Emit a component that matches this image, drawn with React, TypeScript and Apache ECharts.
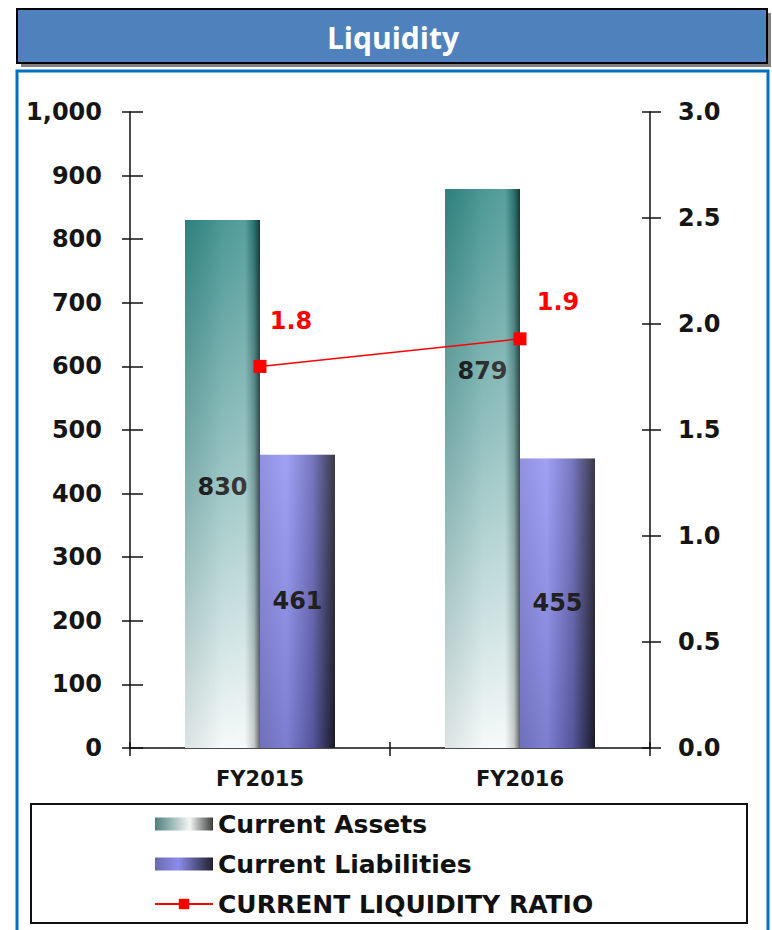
import { useEffect, useRef } from 'react';
import * as echarts from 'echarts';

const TITLE = 'Liquidity';
const CATEGORIES = ['FY2015', 'FY2016'];
const CURRENT_ASSETS = [830, 879];
const CURRENT_LIABILITIES = [461, 455];
const CURRENT_LIQUIDITY_RATIO = [1.8, 1.93];
const SERIES_NAMES = ['Current Assets', 'Current Liabilities', 'CURRENT LIQUIDITY RATIO'];
const LEFT_TICK_LABELS = ['0', '100', '200', '300', '400', '500', '600', '700', '800', '900', '1,000'];
const RIGHT_TICK_LABELS = ['0.0', '0.5', '1.0', '1.5', '2.0', '2.5', '3.0'];

// label nudges (style only)
const ASSET_LABEL_SHIFT = [[0, 3], [0, -97]];
const RATIO_LABEL_SHIFT = [[31, -45], [38, -37]];

const FONT = "'DejaVu Sans', Verdana, sans-serif";

function lg(x2: number, y2: number, stops: [number, string][]) {
  return new echarts.graphic.LinearGradient(0, 0, x2, y2, stops.map(([offset, color]) => ({ offset, color })));
}

export default function App() {
  const ref = useRef<HTMLDivElement>(null);
  useEffect(() => {
    if (!ref.current) return;
    const chart = echarts.init(ref.current, null, { renderer: 'svg' });

    const assetsFill = lg(0, 1, [
      [0, '#338A87'],
      [0.45, '#86B9B8'],
      [1, '#F4F8F8'],
    ]);
    const assetsShade = lg(1, 0, [
      [0, 'rgba(0,40,40,0.10)'],
      [0.5, 'rgba(255,255,255,0.12)'],
      [0.8, 'rgba(255,255,255,0.18)'],
      [0.92, 'rgba(0,0,0,0.18)'],
      [1, 'rgba(0,0,0,0.6)'],
    ]);
    const liabFill = lg(1, 0, [
      [0, '#8282DA'],
      [0.35, '#9494F4'],
      [0.7, '#6464B8'],
      [1, '#1E1E2E'],
    ]);
    const liabShade = lg(0, 1, [
      [0, 'rgba(255,255,255,0.12)'],
      [1, 'rgba(0,0,0,0.15)'],
    ]);
    const assetsLegend = lg(1, 0, [
      [0, '#4E7F7E'],
      [0.6, '#F2F6F6'],
      [1, '#3A3A3A'],
    ]);
    const liabLegend = lg(1, 0, [
      [0, '#6A6AB0'],
      [0.4, '#8C8CEA'],
      [1, '#20202E'],
    ]);

    const tickLabel = {
      fontFamily: FONT,
      fontWeight: 'bold' as const,
      fontSize: 24,
      color: '#151515',
    };

    const option: any = {
      animation: false,
      backgroundColor: '#ffffff',
      grid: { left: 130, right: 122, top: 112, bottom: 182, containLabel: false },
      legend: {
        orient: 'vertical',
        left: 149,
        top: 805,
        itemWidth: 58,
        itemHeight: 13,
        itemGap: 12,
        selectedMode: false,
        textStyle: { fontFamily: FONT, fontWeight: 'bold', fontSize: 25, color: '#111', lineHeight: 28 },
        data: [
          { name: SERIES_NAMES[0], icon: 'rect', itemStyle: { color: assetsLegend } },
          { name: SERIES_NAMES[1], icon: 'rect', itemStyle: { color: liabLegend } },
          { name: SERIES_NAMES[2] },
        ],
      },
      xAxis: [
        {
          type: 'category',
          data: CATEGORIES,
          axisLine: { lineStyle: { color: '#111', width: 1.5 } },
          axisTick: { show: true, length: 8, lineStyle: { color: '#111', width: 1.5 } },
          axisLabel: { ...tickLabel, fontSize: 21, margin: 20 },
        },
        {
          type: 'category',
          data: CATEGORIES,
          position: 'bottom',
          axisLine: { show: false },
          axisTick: { show: true, inside: true, length: 6, lineStyle: { color: '#111', width: 1.5 } },
          axisLabel: { show: false },
        },
      ],
      yAxis: [
        {
          type: 'value',
          min: 0,
          max: 1000,
          interval: 100,
          position: 'left',
          splitLine: { show: false },
          axisLine: { show: true, lineStyle: { color: '#111', width: 1.5 } },
          axisTick: { show: true, length: 8, lineStyle: { color: '#111', width: 1.5 } },
          axisLabel: {
            ...tickLabel,
            margin: 28,
            formatter: (v: number) => LEFT_TICK_LABELS[Math.round(v / 100)],
          },
        },
        {
          type: 'value',
          min: 0,
          max: 3,
          interval: 0.5,
          position: 'right',
          splitLine: { show: false },
          axisLine: { show: true, lineStyle: { color: '#111', width: 1.5 } },
          axisTick: { show: true, length: 11, lineStyle: { color: '#111', width: 1.5 } },
          axisLabel: {
            ...tickLabel,
            margin: 28,
            formatter: (v: number) => RIGHT_TICK_LABELS[Math.round(v / 0.5)],
          },
        },
        {
          type: 'value',
          min: 0,
          max: 1000,
          interval: 100,
          position: 'left',
          splitLine: { show: false },
          axisLine: { show: false },
          axisTick: { show: true, inside: true, length: 13, lineStyle: { color: '#111', width: 1.5 } },
          axisLabel: { show: false },
        },
        {
          type: 'value',
          min: 0,
          max: 3,
          interval: 0.5,
          position: 'right',
          splitLine: { show: false },
          axisLine: { show: false },
          axisTick: { show: true, inside: true, length: 8, lineStyle: { color: '#111', width: 1.5 } },
          axisLabel: { show: false },
        },
      ],
      series: [
        {
          name: SERIES_NAMES[0],
          type: 'bar',
          xAxisIndex: 0,
          yAxisIndex: 0,
          barWidth: 75,
          barGap: '0%',
          itemStyle: { color: assetsFill },
          data: CURRENT_ASSETS.map((v, i) => ({
            value: v,
            label: { offset: ASSET_LABEL_SHIFT[i] },
          })),
          label: {
            show: true,
            position: 'inside',
            fontFamily: FONT,
            fontWeight: 'bold',
            fontSize: 24,
            color: '#111',
          },
          z: 2,
        },
        {
          name: SERIES_NAMES[1],
          type: 'bar',
          xAxisIndex: 0,
          yAxisIndex: 0,
          barWidth: 75,
          barGap: '0%',
          itemStyle: { color: liabFill },
          data: CURRENT_LIABILITIES,
          label: {
            show: true,
            position: 'inside',
            fontFamily: FONT,
            fontWeight: 'bold',
            fontSize: 24,
            color: '#111',
          },
          z: 2,
        },
        {
          name: 'assets-shade',
          type: 'bar',
          xAxisIndex: 1,
          yAxisIndex: 0,
          barWidth: 75,
          barGap: '0%',
          silent: true,
          itemStyle: { color: assetsShade },
          data: CURRENT_ASSETS,
          z: 3,
        },
        {
          name: 'liab-shade',
          type: 'bar',
          xAxisIndex: 1,
          yAxisIndex: 0,
          barWidth: 75,
          barGap: '0%',
          silent: true,
          itemStyle: { color: liabShade },
          data: CURRENT_LIABILITIES,
          z: 3,
        },
        {
          name: SERIES_NAMES[2],
          type: 'line',
          xAxisIndex: 0,
          yAxisIndex: 1,
          symbol: 'rect',
          symbolSize: 13,
          lineStyle: { color: '#FF0000', width: 1.5 },
          itemStyle: { color: '#FF0000' },
          data: CURRENT_LIQUIDITY_RATIO.map((v, i) => ({
            value: v,
            label: { offset: RATIO_LABEL_SHIFT[i] },
          })),
          label: {
            show: true,
            position: 'inside',
            fontFamily: FONT,
            fontWeight: 'bold',
            fontSize: 24,
            color: '#FF0000',
            formatter: (p: any) => Number(p.value).toFixed(1),
          },
          z: 6,
        },
      ],
      graphic: [
        { type: 'rect', z: 0, shape: { x: 21, y: 13, width: 750, height: 54 }, style: { fill: '#808080' } },
        {
          type: 'rect',
          z: 1,
          shape: { x: 17, y: 9, width: 750, height: 54 },
          style: { fill: '#4F81BD', stroke: '#000', lineWidth: 2 },
        },
        {
          type: 'text',
          z: 2,
          x: 393,
          y: 37,
          style: {
            text: TITLE,
            fill: '#ffffff',
            font: "bold 30px 'Open Sans', 'Noto Sans', sans-serif",
            align: 'center',
            verticalAlign: 'middle',
          },
        },
        {
          type: 'rect',
          z: 0,
          shape: { x: 17, y: 71, width: 751, height: 880 },
          style: { fill: 'none', stroke: '#0070C0', lineWidth: 3 },
        },
        {
          type: 'rect',
          z: 0,
          shape: { x: 31, y: 804, width: 716, height: 119 },
          style: { fill: 'none', stroke: '#111', lineWidth: 2 },
        },
      ],
    };
    chart.setOption(option);
    return () => chart.dispose();
  }, []);
  return <div ref={ref} style={{ position: 'absolute', left: 0, top: 0, width: 772, height: 930 }} />;
}
